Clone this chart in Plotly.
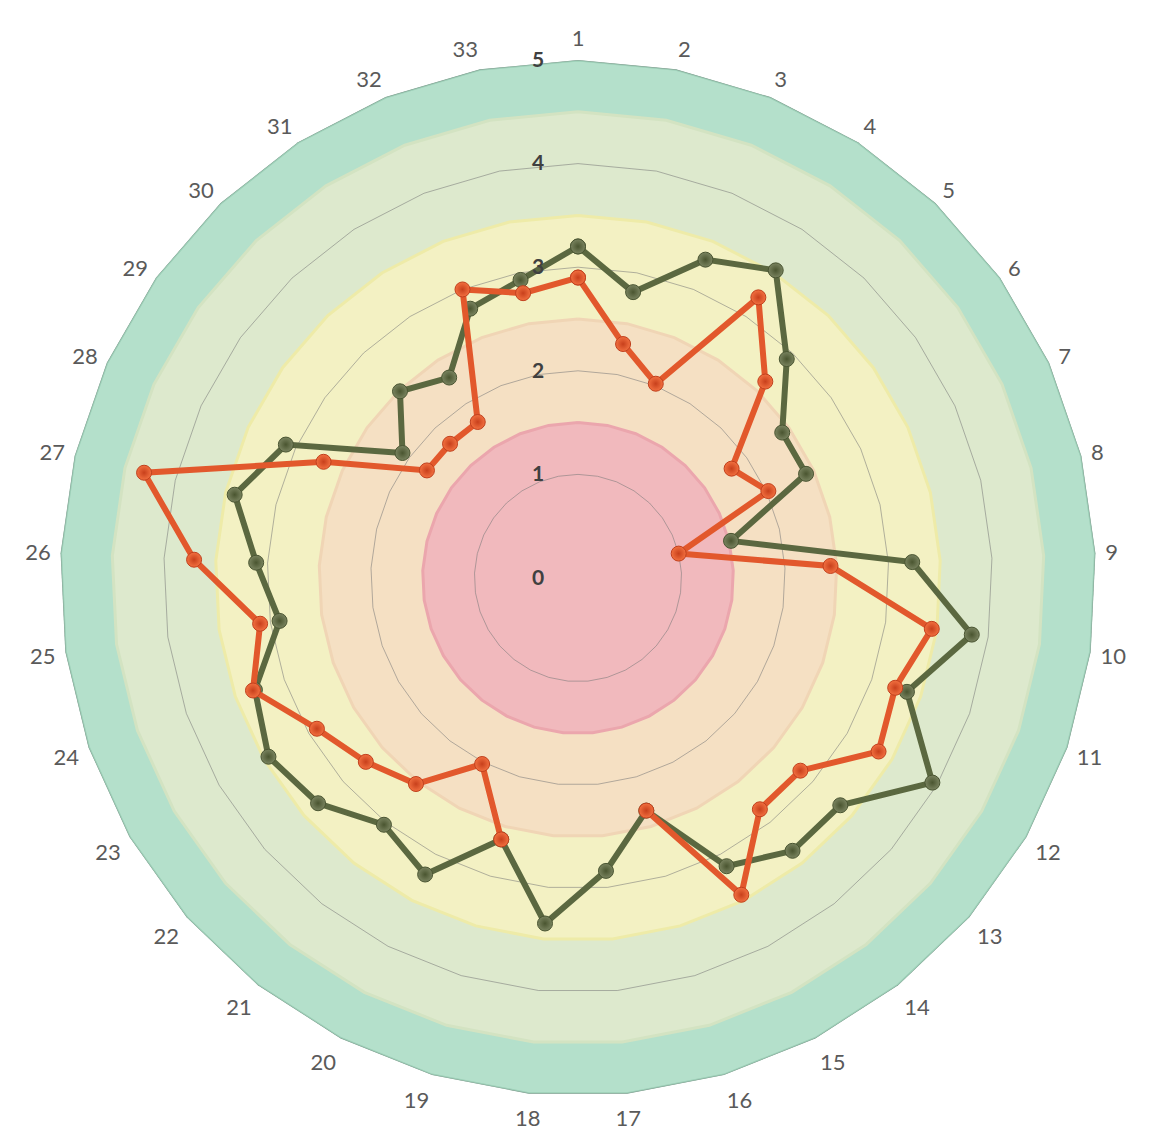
import plotly.graph_objects as go

CATEGORIES = [str(i) for i in range(1, 34)]

SERIES_OLIVE = [3.2, 2.81, 3.31, 3.53, 2.92, 2.42, 2.42, 1.52, 3.23, 3.84,
                3.36, 3.95, 3.35, 3.35, 3.13, 2.34, 2.84, 3.35, 2.63, 3.22,
                3.03, 3.32, 3.45, 3.3, 2.91, 3.11, 3.41, 3.1, 2.08, 2.49,
                2.3, 2.8, 2.93]

SERIES_ORANGE = [2.9, 2.3, 2.02, 3.22, 2.62, 1.82, 2.02, 1.0, 2.44, 3.45,
                 3.24, 3.35, 2.84, 2.84, 3.44, 2.34, None, None, 2.63, 2.02,
                 2.53, 2.71, 2.91, 3.32, 3.1, 3.71, 4.31, 2.7, 1.79, 1.79,
                 1.79, 3.0, 2.8]

BAND_EDGES = [5, 4.5, 3.5, 2.5, 1.5]
BAND_COLORS = ["#b4e0cb", "#dde9cd", "#f3f1c3", "#f5e0c3", "#f1b9bd"]
BAND_LINES = ["#9ccfb7", "#d3e3c2", "#eeeba8", "#f0d5b5", "#eba6ad"]

R_TICKS = [0, 1, 2, 3, 4, 5]

theta_closed = CATEGORIES + [CATEGORIES[0]]

fig = go.Figure()

# background bands
for edge, col, lcol in zip(BAND_EDGES, BAND_COLORS, BAND_LINES):
    fig.add_trace(go.Scatterpolar(
        r=[edge] * len(theta_closed), theta=theta_closed,
        mode="lines", fill="toself", fillcolor=col,
        line=dict(color=lcol, width=3), hoverinfo="skip", showlegend=False))

# grid polygons
for t in R_TICKS[1:]:
    fig.add_trace(go.Scatterpolar(
        r=[t] * len(theta_closed), theta=theta_closed,
        mode="lines", line=dict(color="rgba(120,120,120,0.55)", width=1),
        hoverinfo="skip", showlegend=False))

def closed(vals):
    return vals + [vals[0]]

fig.add_trace(go.Scatterpolar(
    r=closed(SERIES_OLIVE), theta=theta_closed, name="Series 1",
    mode="lines+markers", connectgaps=False,
    line=dict(color="#5b6840", width=6),
    marker=dict(size=15, color="#7a8460",
                gradient=dict(type="radial", color="#4a5530"),
                line=dict(color="#4a5532", width=1)),
    showlegend=False))

fig.add_trace(go.Scatterpolar(
    r=closed(SERIES_ORANGE), theta=theta_closed, name="Series 2",
    mode="lines+markers", connectgaps=False,
    line=dict(color="#e2582c", width=6),
    marker=dict(size=15, color="#f27040",
                gradient=dict(type="radial", color="#c8401c"),
                line=dict(color="#c0401e", width=1)),
    showlegend=False))

fig.update_layout(
    width=1149, height=1133,
    margin=dict(l=52, r=61, t=52, b=45),
    paper_bgcolor="white",
    showlegend=False,
    polar=dict(
        gridshape="linear",
        bgcolor="rgba(0,0,0,0)",
        angularaxis=dict(
            type="category", categoryarray=CATEGORIES,
            rotation=90, direction="clockwise",
            showgrid=False, showline=False,
            ticks="outside", ticklen=5, tickcolor="rgba(0,0,0,0)",
            tickfont=dict(family="Lato", size=22, color="#5a5a5a")),
        radialaxis=dict(
            range=[0, 5], tickvals=R_TICKS, ticktext=[str(v) for v in R_TICKS],
            angle=90, tickangle=90, side="counterclockwise",
            showgrid=False, showline=False,
            ticks="outside", ticklen=26, tickcolor="rgba(0,0,0,0)",
            tickfont=dict(family="Lato", size=21, color="#404040", weight="bold"),
        ),
    ),
)

fig.write_html("out.html")
